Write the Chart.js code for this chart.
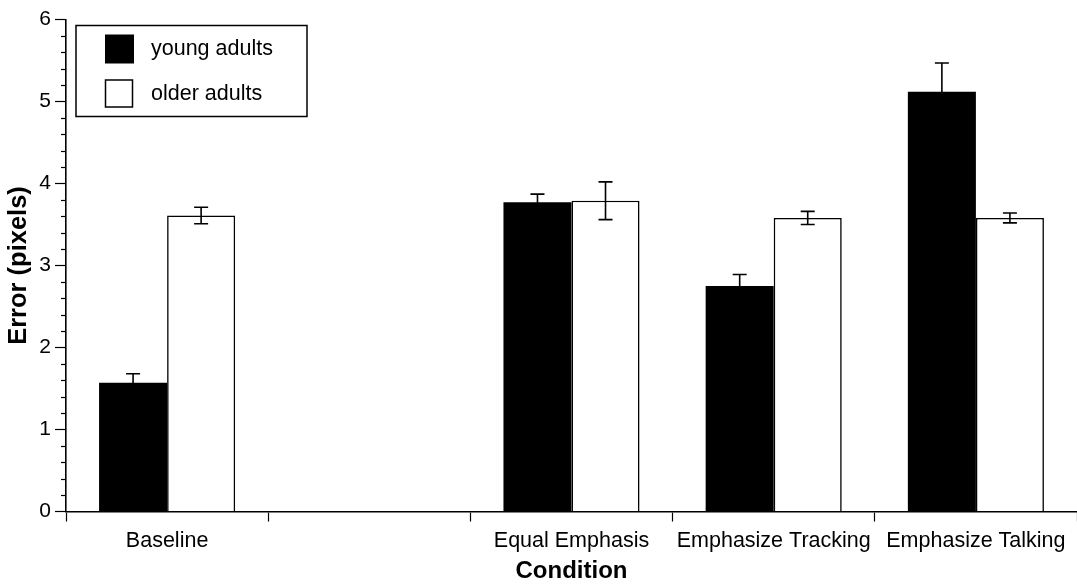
<!DOCTYPE html>
<html>
<head>
<meta charset="utf-8">
<script src="https://cdn.jsdelivr.net/npm/chart.js@4.4.1/dist/chart.umd.min.js"></script>
<style>
  html, body { margin: 0; padding: 0; background: #ffffff; }
  #wrap { width: 1077px; height: 586px; }
</style>
</head>
<body>
<div id="wrap"><canvas id="c" width="1077" height="586"></canvas></div>
<script>
const categories = ['Baseline', '', 'Equal Emphasis', 'Emphasize Tracking', 'Emphasize Talking'];
const youngValues = [1.57, null, 3.77, 2.75, 5.12];
const youngErrors = [0.11, null, 0.10, 0.14, 0.35];
const olderValues = [3.61, null, 3.79, 3.58, 3.58];
const olderErrors = [0.10, null, 0.23, 0.08, 0.06];
const seriesNames = ['young adults', 'older adults'];
const yMin = 0, yMax = 6, yStep = 0.2;

const FONT = "'Liberation Sans', Arial, Helvetica, sans-serif";

const errorBars = {
  id: 'errorBars',
  afterDatasetsDraw(chart) {
    const ctx = chart.ctx;
    const yScale = chart.scales.y;
    const errs = [youngErrors, olderErrors];
    ctx.save();
    ctx.strokeStyle = '#000';
    ctx.lineWidth = 1.6;
    chart.data.datasets.forEach((ds, i) => {
      const meta = chart.getDatasetMeta(i);
      meta.data.forEach((el, j) => {
        const v = ds.data[j];
        const e = errs[i][j];
        if (v == null || e == null) return;
        const x = el.x;
        const yt = yScale.getPixelForValue(v + e);
        const yb = yScale.getPixelForValue(v - e);
        const cap = 7;
        ctx.beginPath();
        ctx.moveTo(x, yt); ctx.lineTo(x, yb);
        ctx.moveTo(x - cap, yt); ctx.lineTo(x + cap, yt);
        ctx.moveTo(x - cap, yb); ctx.lineTo(x + cap, yb);
        ctx.stroke();
      });
    });
    ctx.restore();
  }
};

const minorTicks = {
  id: 'minorTicks',
  afterDraw(chart) {
    const ctx = chart.ctx;
    const ys = chart.scales.y;
    const x0 = ys.right;
    ctx.save();
    ctx.strokeStyle = '#000';
    ctx.lineWidth = 1.2;
    ys.ticks.forEach(t => {
      if (Math.abs(t.value - Math.round(t.value)) < 1e-6) return;
      const y = Math.round(ys.getPixelForValue(t.value)) + 0.5;
      ctx.beginPath();
      ctx.moveTo(x0 - 5, y); ctx.lineTo(x0, y);
      ctx.stroke();
    });
    ctx.restore();
  }
};

const boxLegend = {
  id: 'boxLegend',
  afterDraw(chart) {
    const ctx = chart.ctx;
    const a = chart.chartArea;
    const L = a.left + 10, T = a.top + 6;
    ctx.save();
    ctx.fillStyle = '#fff';
    ctx.fillRect(L, T, 231, 91);
    ctx.strokeStyle = '#000';
    ctx.lineWidth = 1.5;
    ctx.strokeRect(L, T, 231, 91);
    const ds = chart.data.datasets;
    const rows = [T + 23, T + 68];
    ds.forEach((d, i) => {
      const cy = rows[i];
      if (i === 0) {
        ctx.fillStyle = '#000';
        ctx.fillRect(L + 29, cy - 14, 29, 29);
      } else {
        ctx.fillStyle = '#fff';
        ctx.fillRect(L + 29, cy - 14, 28, 28);
        ctx.lineWidth = 1.5;
        ctx.strokeRect(L + 29.5, cy - 13.5, 27, 27);
      }
      ctx.fillStyle = '#000';
      ctx.font = '21.5px ' + FONT;
      ctx.textBaseline = 'middle';
      ctx.textAlign = 'left';
      ctx.fillText(d.label, L + 75, cy + 1);
    });
    ctx.restore();
  }
};

new Chart(document.getElementById('c'), {
  type: 'bar',
  data: {
    labels: categories,
    datasets: [
      {
        label: seriesNames[0],
        data: youngValues,
        backgroundColor: '#000',
        borderColor: '#000',
        borderWidth: 0,
        categoryPercentage: 0.673,
        barPercentage: 1.0
      },
      {
        label: seriesNames[1],
        data: olderValues,
        backgroundColor: '#fff',
        borderColor: '#000',
        borderWidth: 1.6,
        categoryPercentage: 0.673,
        barPercentage: 1.0
      }
    ]
  },
  options: {
    responsive: false,
    animation: false,
    devicePixelRatio: 1,
    layout: { padding: { top: 19.5, right: 0, left: 0, bottom: 0 } },
    plugins: {
      legend: { display: false },
      tooltip: { enabled: false }
    },
    scales: {
      x: {
        offset: true,
        grid: {
          offset: true,
          drawOnChartArea: false,
          drawTicks: true,
          tickLength: 10,
          tickColor: '#000',
          tickWidth: 1.2
        },
        border: { display: true, color: '#000', width: 1.6 },
        ticks: {
          color: '#000',
          font: { family: FONT, size: 21.5 },
          padding: 7,
          maxRotation: 0,
          autoSkip: false
        },
        title: {
          display: true,
          text: 'Condition',
          color: '#000',
          font: { family: FONT, size: 24, weight: 'bold' },
          padding: { top: 0, bottom: 0 }
        },
        afterFit(scale) { scale.height = 74.5; }
      },
      y: {
        min: yMin,
        max: yMax,
        grid: {
          drawOnChartArea: false,
          drawTicks: true,
          tickLength: 11,
          tickWidth: 1.2,
          tickColor: (c) => (c.tick && Math.abs(c.tick.value - Math.round(c.tick.value)) < 1e-6) ? '#000' : 'rgba(0,0,0,0)'
        },
        border: { display: true, color: '#000', width: 1.6 },
        ticks: {
          stepSize: yStep,
          autoSkip: false,
          color: '#000',
          font: { family: FONT, size: 21 },
          padding: 4,
          callback: (v) => Math.abs(v - Math.round(v)) < 1e-6 ? String(Math.round(v)) : ''
        },
        title: {
          display: true,
          text: 'Error (pixels)',
          color: '#000',
          font: { family: FONT, size: 25.5, weight: 'bold' },
          padding: { top: 4, bottom: 0 }
        },
        afterFit(scale) { scale.width = 66; }
      }
    }
  },
  plugins: [errorBars, minorTicks, boxLegend]
});
</script>
</body>
</html>
